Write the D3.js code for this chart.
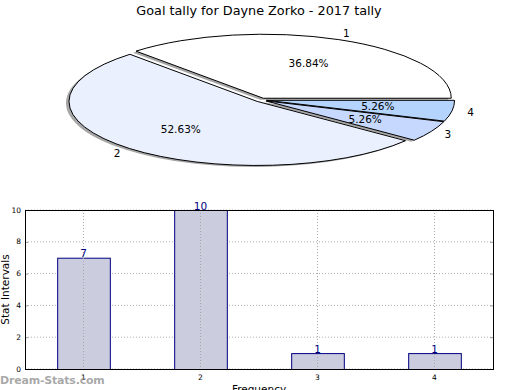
<!DOCTYPE html>
<html>
<head>
<meta charset="utf-8">
<script src="https://cdn.jsdelivr.net/npm/d3@7"></script>
<style>
  body { margin: 0; background: #fff; }
  svg { font-family: "DejaVu Sans", sans-serif; }
</style>
</head>
<body>
<div id="chart"></div>
<script>
// data
var titleText = "Goal tally for Dayne Zorko - 2017 tally";
var categories = ["1", "2", "3", "4"];
var tallies = [7, 10, 1, 1];
var pieColors = ["#ffffff", "#eaf0fe", "#c6d8fe", "#b4d4fe"];
var yTicks = [0, 2, 4, 6, 8, 10];

var width = 520, height = 390;

var svg = d3.select("#chart").append("svg")
    .attr("width", width)
    .attr("height", height);

svg.append("text")
    .attr("x", 259)
    .attr("y", 15)
    .attr("text-anchor", "middle")
    .style("font-size", "12.8px")
    .text(titleText);

// ---- pie (matplotlib style: squashed, exploded, shadowed) ----
var cx = 261, cy = 100, rx = 188, ry = 64, explode = 0.03;
var total = d3.sum(tallies);

// start at 3 o'clock going counter-clockwise
var pie = d3.pie().sort(null)
    .startAngle(Math.PI / 2)
    .endAngle(Math.PI / 2 - 2 * Math.PI);
var arcs = pie(tallies);

var unitArc = d3.arc().innerRadius(0).outerRadius(1);

function offset(d, k) {
    var a = (d.startAngle + d.endAngle) / 2;
    return [cx + k * rx * Math.sin(a), cy - k * ry * Math.cos(a)];
}

var gPie = svg.append("g");

// shadows first, behind everything
gPie.selectAll("path.shadow")
    .data(arcs)
    .enter().append("path")
    .attr("class", "shadow")
    .attr("transform", function(d) {
        var o = offset(d, explode);
        return "translate(" + (o[0] - 3) + "," + (o[1] + 1.5) + ") scale(" + rx + "," + ry + ")";
    })
    .attr("d", unitArc)
    .attr("fill", "#4d4d4d")
    .attr("fill-opacity", 0.5);

gPie.selectAll("path.wedge")
    .data(arcs)
    .enter().append("path")
    .attr("class", "wedge")
    .attr("transform", function(d) {
        var o = offset(d, explode);
        return "translate(" + o[0] + "," + o[1] + ") scale(" + rx + "," + ry + ")";
    })
    .attr("d", unitArc)
    .attr("fill", function(d, i) { return pieColors[i]; })
    .attr("stroke", "#000")
    .attr("stroke-width", 1)
    .attr("vector-effect", "non-scaling-stroke");

function labelPos(d, k) {
    var a = (d.startAngle + d.endAngle) / 2;
    var o = offset(d, explode);
    return [o[0] + k * rx * Math.sin(a), o[1] - k * ry * Math.cos(a)];
}

gPie.selectAll("text.pct")
    .data(arcs)
    .enter().append("text")
    .attr("class", "pct")
    .attr("x", function(d) { return labelPos(d, 0.6)[0]; })
    .attr("y", function(d) { return labelPos(d, 0.6)[1]; })
    .attr("dy", "0.35em")
    .attr("text-anchor", "middle")
    .style("font-size", "10.5px")
    .text(function(d) { return (d.value / total * 100).toFixed(2) + "%"; });

gPie.selectAll("text.name")
    .data(arcs)
    .enter().append("text")
    .attr("class", "name")
    .attr("x", function(d) { return labelPos(d, 1.1)[0]; })
    .attr("y", function(d) { return labelPos(d, 1.1)[1]; })
    .attr("dy", "0.35em")
    .attr("text-anchor", "middle")
    .style("font-size", "10.5px")
    .text(function(d, i) { return categories[i]; });

// ---- bar chart ----
var box = {left: 25, right: 493, top: 210, bottom: 369};

var x = d3.scaleLinear().domain([0.5, 4.5]).range([box.left, box.right]);
var y = d3.scaleLinear().domain([0, 10]).range([box.bottom, box.top]);

var gBar = svg.append("g");

// grid
gBar.selectAll("line.hgrid")
    .data(yTicks)
    .enter().append("line")
    .attr("x1", box.left).attr("x2", box.right)
    .attr("y1", function(d) { return y(d); })
    .attr("y2", function(d) { return y(d); })
    .attr("stroke", "#b0b0b0")
    .attr("stroke-width", 1)
    .attr("stroke-dasharray", "1,2");

var barW = 0.45;
gBar.selectAll("rect.bar")
    .data(tallies)
    .enter().append("rect")
    .attr("x", function(d, i) { return x(+categories[i] - barW / 2) + 0.5; })
    .attr("y", function(d) { return y(d) + 0.5; })
    .attr("width", function() { return x(barW) - x(0); })
    .attr("height", function(d) { return y(0) - y(d); })
    .attr("fill", "#ccccdf")
    .attr("stroke", "#000080")
    .attr("stroke-width", 1);

// vertical grid sits over the bars
gBar.selectAll("line.vgrid")
    .data(categories)
    .enter().append("line")
    .attr("x1", function(d) { return x(+d); })
    .attr("x2", function(d) { return x(+d); })
    .attr("y1", box.top).attr("y2", box.bottom)
    .attr("stroke", "#a8a8a8")
    .attr("stroke-width", 1)
    .attr("stroke-dasharray", "1,2");

// inward ticks
var yAxisL = d3.axisRight(y).tickValues(yTicks).tickSize(3).tickFormat("");
var yAxisR = d3.axisLeft(y).tickValues(yTicks).tickSize(3).tickFormat("");
gBar.append("g").attr("transform", "translate(" + box.left + ",0)").call(yAxisL);
gBar.append("g").attr("transform", "translate(" + box.right + ",0)").call(yAxisR);
gBar.selectAll(".domain").remove();
gBar.selectAll(".tick line").attr("stroke", "#999");

// frame
gBar.append("rect")
    .attr("x", box.left + 0.5).attr("y", box.top + 0.5)
    .attr("width", box.right - box.left)
    .attr("height", box.bottom - box.top)
    .attr("fill", "none")
    .attr("stroke", "#000")
    .attr("stroke-width", 1);

// tick labels
gBar.selectAll("text.ylab")
    .data(yTicks)
    .enter().append("text")
    .attr("x", box.left - 4)
    .attr("y", function(d) { return y(d); })
    .attr("dy", "0.35em")
    .attr("text-anchor", "end")
    .style("font-size", "7.5px")
    .text(function(d) { return d; });

gBar.selectAll("text.xlab")
    .data(categories)
    .enter().append("text")
    .attr("x", function(d) { return x(+d); })
    .attr("y", box.bottom + 11)
    .attr("text-anchor", "middle")
    .style("font-size", "7.5px")
    .text(function(d) { return d; });

// value labels
gBar.selectAll("text.val")
    .data(tallies)
    .enter().append("text")
    .attr("x", function(d, i) { return x(+categories[i]); })
    .attr("y", function(d) { return y(d) - 0.5; })
    .attr("text-anchor", "middle")
    .attr("fill", "#000080")
    .style("font-size", "10.5px")
    .text(function(d) { return d; });

// axis titles
svg.append("text")
    .attr("transform", "translate(9," + ((box.top + box.bottom) / 2) + ") rotate(-90)")
    .attr("text-anchor", "middle")
    .style("font-size", "10.5px")
    .text("Stat Intervals");

svg.append("text")
    .attr("x", (box.left + box.right) / 2)
    .attr("y", 393)
    .attr("text-anchor", "middle")
    .style("font-size", "10.5px")
    .text("Frequency");

// watermark
svg.append("text")
    .attr("x", 0)
    .attr("y", 384)
    .attr("fill", "#999")
    .attr("fill-opacity", 0.85)
    .style("font-size", "11px")
    .style("font-weight", "bold")
    .style("letter-spacing", "-0.2px")
    .text("Dream-Stats.com");
</script>
</body>
</html>
